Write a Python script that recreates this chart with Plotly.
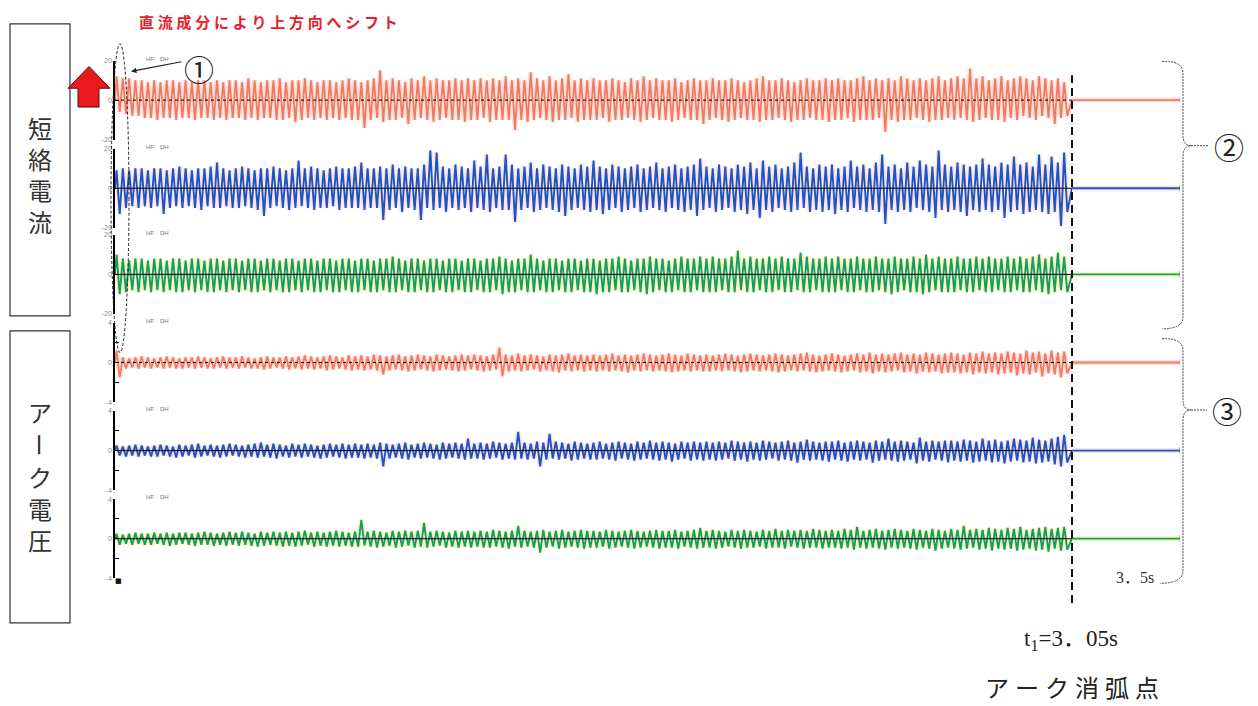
import plotly.graph_objects as go

W, H = 1258, 706
OX, OY = 8, 8      # page body margin around the plot div

F_HZ = 50          # one hi/lo pair per mains cycle
T_ARC_END = 3.05   # arc extinction
T_REC_END = 3.5    # end of record

# ---- short-circuit current, peak per cycle (units of the +-20 scale) ----
cur_red_hi = [12, 11, 11, 10, 10, 9, 10, 9, 10, 10, 9, 10, 9, 10, 10, 9, 10, 9, 10,
              10, 9, 11, 10, 9, 10, 10, 11, 9, 10, 10, 11, 10, 9, 10, 10, 9, 10, 11,
              10, 9, 10, 11, 15, 10, 11, 10, 9, 11, 10, 12, 10, 11, 10, 10, 11, 10, 11,
              10, 11, 10, 11, 10, 12, 10, 11, 10, 14, 11, 10, 12, 10, 11, 13, 10, 11, 10,
              11, 10, 10, 11, 10, 9, 11, 10, 12, 10, 11, 10, 10, 11, 9, 10, 11, 10, 10,
              11, 10, 10, 11, 10, 9, 10, 11, 12, 10, 10, 11, 10, 9, 10, 11, 10, 10, 11,
              10, 11, 10, 10, 11, 12, 10, 11, 10, 11, 10, 12, 11, 10, 11, 10, 11, 12, 10,
              11, 12, 11, 16, 11, 12, 10, 11, 12, 10, 11, 12, 11, 10, 12, 11, 10, 11, 9]
cur_red_lo = [-6, -7, -8, -8, -9, -9, -10, -9, -9, -10, -9, -9, -10, -9, -9, -10, -9, -10, -9,
              -9, -10, -9, -10, -9, -9, -10, -10, -9, -11, -10, -9, -10, -9, -10, -9, -10, -9, -10,
              -10, -14, -10, -9, -11, -10, -10, -9, -12, -10, -9, -10, -11, -10, -9, -10, -10, -11, -10,
              -10, -9, -11, -10, -10, -10, -15, -10, -11, -10, -9, -10, -11, -10, -10, -9, -11, -10, -10,
              -10, -9, -11, -10, -10, -9, -10, -11, -10, -9, -10, -10, -11, -10, -9, -10, -10, -12, -10,
              -9, -10, -11, -10, -9, -10, -10, -11, -10, -10, -9, -10, -11, -10, -10, -9, -10, -10, -11,
              -10, -10, -9, -11, -10, -10, -10, -9, -16, -10, -11, -10, -10, -9, -10, -11, -10, -10, -9,
              -10, -9, -10, -11, -10, -9, -10, -10, -11, -9, -10, -8, -9, -10, -8, -9, -12, -9, -8]

cur_blue_hi = [9, 10, 9, 10, 10, 9, 10, 10, 9, 10, 11, 10, 9, 10, 10, 11, 13, 10, 9,
               10, 11, 10, 9, 10, 10, 11, 10, 9, 10, 14, 10, 11, 10, 9, 10, 11, 10, 10,
               11, 13, 10, 10, 11, 10, 12, 10, 11, 10, 10, 12, 19, 18, 11, 10, 12, 11, 10,
               14, 11, 17, 10, 11, 17, 12, 10, 11, 13, 10, 12, 11, 10, 12, 11, 10, 12, 11,
               14, 11, 10, 12, 11, 10, 11, 12, 10, 11, 13, 10, 11, 12, 10, 11, 12, 15, 11,
               10, 12, 11, 10, 12, 11, 13, 10, 14, 11, 12, 10, 11, 13, 18, 11, 10, 12, 11,
               12, 10, 11, 14, 11, 12, 10, 13, 17, 11, 12, 10, 13, 11, 14, 12, 11, 19, 12,
               11, 13, 12, 11, 12, 15, 12, 11, 13, 12, 16, 12, 13, 11, 17, 12, 16, 13, 18]
cur_blue_lo = [-13, -10, -9, -10, -9, -10, -9, -13, -10, -9, -10, -9, -10, -11, -9, -10, -10, -9, -10,
               -10, -9, -10, -11, -14, -10, -9, -10, -11, -10, -9, -10, -11, -10, -10, -9, -11, -10, -10,
               -10, -11, -10, -10, -16, -11, -10, -12, -10, -11, -16, -10, -11, -10, -12, -10, -11, -10, -12,
               -10, -11, -12, -10, -11, -11, -17, -11, -10, -12, -11, -10, -11, -12, -14, -11, -10, -11, -12,
               -11, -13, -11, -10, -12, -11, -10, -12, -11, -10, -11, -12, -10, -11, -12, -11, -14, -11, -10,
               -12, -11, -10, -12, -11, -13, -11, -15, -11, -12, -10, -11, -12, -11, -10, -12, -11, -12, -11,
               -13, -11, -12, -10, -11, -12, -11, -12, -18, -11, -12, -11, -12, -10, -11, -12, -15, -11, -12,
               -11, -12, -14, -11, -12, -11, -12, -11, -15, -12, -11, -13, -12, -11, -12, -13, -12, -19, -12]

cur_green_hi = [10, 8, 7, 8, 8, 7, 8, 8, 7, 8, 8, 7, 8, 8, 7, 8, 8, 7, 8,
                8, 7, 8, 8, 7, 8, 8, 7, 8, 8, 7, 8, 8, 7, 8, 8, 7, 8, 8,
                7, 8, 8, 7, 8, 8, 9, 8, 7, 8, 8, 7, 8, 8, 7, 8, 8, 7, 8,
                8, 7, 8, 8, 9, 8, 7, 8, 8, 10, 8, 7, 8, 8, 7, 8, 8, 7, 8,
                8, 7, 8, 8, 9, 8, 7, 8, 8, 9, 8, 8, 7, 8, 9, 8, 8, 9, 8,
                9, 8, 8, 9, 12, 8, 9, 8, 8, 9, 8, 9, 8, 8, 11, 9, 8, 8, 9,
                8, 9, 8, 8, 9, 8, 8, 9, 8, 8, 9, 8, 8, 9, 8, 10, 8, 9, 8,
                8, 9, 8, 8, 9, 8, 9, 8, 8, 9, 8, 9, 8, 9, 10, 8, 9, 11, 9]
cur_green_lo = [-10, -9, -8, -9, -8, -9, -8, -9, -8, -9, -9, -8, -9, -8, -9, -9, -8, -9, -8,
                -9, -8, -9, -9, -8, -9, -8, -9, -9, -8, -9, -8, -9, -9, -8, -9, -9, -8, -9,
                -9, -8, -9, -9, -8, -9, -9, -8, -9, -9, -8, -9, -9, -8, -9, -9, -8, -9, -9,
                -8, -9, -9, -8, -10, -9, -9, -8, -9, -9, -8, -9, -9, -8, -9, -9, -8, -9, -9,
                -10, -9, -9, -8, -9, -9, -8, -9, -10, -9, -8, -9, -9, -8, -9, -9, -8, -9, -9,
                -9, -8, -9, -9, -8, -9, -9, -8, -9, -9, -8, -9, -9, -8, -9, -9, -8, -9, -9,
                -9, -8, -9, -9, -8, -9, -9, -8, -9, -10, -9, -8, -9, -9, -10, -9, -8, -9, -9,
                -9, -8, -9, -9, -8, -9, -9, -8, -9, -9, -8, -9, -9, -8, -9, -10, -9, -8, -9]

# ---- arc voltage, peak per cycle in tenths of the +-4 scale ----
volt_red_hi = [12, 5, 4, 5, 6, 5, 4, 5, 6, 5, 4, 5, 5, 6, 5, 4, 5, 6, 5,
               5, 6, 5, 4, 5, 6, 5, 5, 6, 5, 6, 7, 6, 5, 6, 7, 6, 5, 7,
               6, 7, 6, 8, 7, 6, 7, 8, 6, 7, 8, 7, 6, 8, 7, 6, 7, 8, 7,
               8, 7, 6, 8, 15, 8, 7, 9, 7, 8, 7, 6, 8, 7, 8, 9, 7, 8, 7,
               8, 7, 8, 9, 7, 8, 7, 8, 9, 8, 7, 8, 9, 8, 7, 9, 8, 7, 8,
               7, 8, 9, 8, 7, 8, 9, 8, 7, 8, 9, 8, 7, 8, 9, 10, 8, 7, 8,
               9, 8, 7, 8, 9, 8, 10, 8, 9, 8, 9, 10, 8, 9, 8, 10, 9, 8, 9,
               10, 9, 8, 10, 9, 11, 9, 10, 9, 11, 10, 9, 12, 10, 11, 9, 12, 10, 11]
volt_red_lo = [-15, -6, -5, -6, -5, -6, -5, -6, -5, -6, -6, -5, -6, -5, -6, -6, -5, -6, -5,
               -6, -5, -6, -6, -7, -6, -5, -6, -7, -6, -7, -6, -7, -6, -8, -7, -6, -7, -8,
               -7, -8, -7, -8, -12, -8, -7, -8, -9, -8, -7, -8, -9, -8, -7, -8, -9, -8, -7,
               -8, -9, -8, -7, -14, -9, -8, -9, -8, -7, -9, -8, -9, -10, -8, -9, -8, -9, -8,
               -9, -8, -9, -8, -9, -10, -8, -9, -8, -9, -8, -9, -10, -9, -8, -9, -8, -9, -9,
               -8, -9, -8, -9, -10, -9, -8, -9, -8, -9, -10, -9, -8, -9, -8, -9, -10, -9, -8,
               -9, -10, -9, -8, -10, -9, -11, -9, -10, -9, -8, -10, -9, -11, -9, -10, -9, -11, -10,
               -10, -11, -10, -12, -10, -11, -10, -12, -11, -10, -13, -11, -12, -10, -14, -11, -12, -15, -11]

volt_blue_hi = [5, 4, 5, 6, 5, 4, 5, 6, 5, 4, 6, 5, 6, 7, 5, 6, 5, 6, 7,
                6, 5, 6, 7, 8, 6, 7, 6, 5, 7, 6, 7, 6, 5, 6, 7, 6, 7, 6,
                7, 6, 7, 6, 8, 7, 6, 7, 8, 6, 7, 8, 7, 6, 8, 7, 8, 7, 12,
                7, 8, 7, 9, 8, 7, 8, 19, 8, 7, 9, 8, 17, 9, 8, 7, 9, 8, 7,
                8, 9, 7, 8, 9, 8, 7, 9, 8, 10, 8, 9, 8, 7, 9, 8, 9, 8, 9,
                8, 9, 8, 10, 9, 8, 9, 8, 10, 9, 8, 9, 10, 8, 9, 11, 9, 8, 9,
                9, 10, 8, 9, 10, 9, 8, 10, 9, 12, 9, 10, 9, 8, 13, 9, 10, 9, 10,
                10, 9, 11, 10, 9, 12, 10, 11, 9, 10, 12, 11, 10, 13, 11, 10, 12, 14, 16]
volt_blue_lo = [-5, -6, -5, -6, -5, -6, -6, -5, -6, -7, -6, -5, -7, -6, -5, -6, -7, -6, -5,
                -6, -7, -6, -7, -6, -7, -8, -6, -7, -6, -7, -6, -7, -8, -7, -6, -7, -8, -7,
                -7, -8, -7, -8, -16, -8, -7, -8, -9, -7, -8, -7, -8, -9, -8, -7, -8, -9, -8,
                -8, -9, -8, -7, -9, -8, -9, -8, -9, -8, -16, -9, -8, -9, -8, -10, -9, -8, -9,
                -9, -8, -9, -10, -8, -9, -10, -9, -8, -9, -10, -9, -11, -9, -8, -10, -9, -10, -9,
                -10, -9, -8, -10, -9, -11, -9, -10, -9, -8, -10, -9, -10, -12, -9, -10, -9, -10, -11,
                -9, -10, -11, -9, -10, -9, -12, -10, -9, -10, -11, -10, -9, -13, -10, -11, -9, -10, -12,
                -10, -11, -10, -12, -11, -10, -12, -11, -13, -11, -10, -12, -11, -13, -12, -11, -14, -16, -12]

volt_green_hi = [5, 4, 5, 6, 5, 5, 6, 5, 6, 5, 6, 6, 5, 6, 7, 6, 5, 6, 7,
                 6, 7, 6, 5, 7, 6, 7, 6, 7, 6, 7, 8, 6, 7, 6, 7, 8, 7, 6,
                 7, 19, 7, 8, 7, 6, 8, 7, 8, 7, 8, 16, 7, 8, 7, 6, 8, 7, 8,
                 7, 8, 7, 9, 8, 7, 8, 13, 8, 7, 8, 9, 7, 8, 9, 7, 8, 9, 8,
                 8, 7, 9, 8, 7, 8, 9, 8, 7, 8, 9, 8, 8, 9, 7, 8, 9, 11, 8,
                 9, 8, 7, 9, 8, 9, 8, 7, 9, 8, 10, 8, 9, 8, 9, 8, 10, 9, 8,
                 9, 8, 10, 9, 12, 8, 9, 10, 8, 9, 10, 9, 8, 10, 9, 8, 10, 9, 8,
                 10, 9, 13, 9, 10, 9, 11, 10, 9, 11, 10, 12, 9, 10, 11, 12, 10, 11, 12]
volt_green_lo = [-6, -5, -6, -5, -6, -6, -5, -6, -7, -6, -5, -6, -7, -6, -6, -7, -6, -7, -6,
                 -7, -6, -7, -8, -7, -6, -7, -8, -7, -8, -7, -6, -8, -7, -8, -7, -8, -7, -8,
                 -8, -7, -8, -9, -8, -7, -9, -8, -7, -9, -8, -9, -8, -7, -9, -8, -9, -8, -9,
                 -8, -9, -9, -8, -9, -10, -8, -9, -8, -9, -14, -9, -8, -10, -9, -8, -9, -10, -9,
                 -9, -8, -10, -9, -8, -9, -10, -9, -8, -9, -10, -9, -9, -10, -8, -9, -10, -9, -9,
                 -10, -9, -8, -9, -10, -9, -9, -8, -10, -9, -9, -10, -8, -9, -10, -9, -9, -10, -9,
                 -9, -10, -9, -11, -9, -10, -9, -10, -11, -9, -10, -9, -10, -11, -9, -10, -12, -10, -9,
                 -10, -11, -10, -9, -11, -10, -12, -10, -11, -10, -12, -11, -10, -12, -11, -13, -10, -12, -11]

# after extinction every channel sits on zero until the end of the record
t_post = [T_ARC_END, T_REC_END]
level_post = [0, 0]


def px(x):
    return (x - OX) / W


def py(y):
    return 1 - (y - OY) / H


def wave(hi, lo, scale=1.0):
    t, y = [0.0], [0.0]
    for k in range(len(hi)):
        t += [(k + 0.25) / F_HZ, (k + 0.75) / F_HZ]
        y += [hi[k] * scale, lo[k] * scale]
    t.append(T_ARC_END)
    y.append(0.0)
    return t, y


RED = dict(line="rgba(236,88,58,0.75)", halo="rgba(246,150,128,0.28)", dotted=True, w=1.8)
BLUE = dict(line="#1d56bc", halo="rgba(242,165,195,0.32)", dotted=False, w=1.9)
GREEN = dict(line="#139c6c", halo="rgba(246,236,120,0.55)", dotted=False, w=1.9)

# (hi, lo, scale, colours, zero row in px, y range)
panels = [
    (cur_red_hi, cur_red_lo, 1.0, RED, 97, 20),
    (cur_blue_hi, cur_blue_lo, 1.0, BLUE, 186, 20),
    (cur_green_hi, cur_green_lo, 1.0, GREEN, 273, 20),
    (volt_red_hi, volt_red_lo, 0.1, RED, 362, 4),
    (volt_blue_hi, volt_blue_lo, 0.1, BLUE, 451, 4),
    (volt_green_hi, volt_green_lo, 0.1, GREEN, 540, 4),
]

fig = go.Figure()
layout = dict(
    width=W, height=H, margin=dict(l=0, r=0, t=0, b=0),
    paper_bgcolor="white", plot_bgcolor="rgba(0,0,0,0)", showlegend=False,
    xaxis=dict(domain=[px(115), px(1072)], range=[0, T_ARC_END], visible=False),
    xaxis2=dict(domain=[px(1072), px(1180)], range=[T_ARC_END, T_REC_END], visible=False),
)
shapes = []
annotations = []

for i, (hi, lo, scale, col, zero_px, span) in enumerate(panels):
    yname = "y" if i == 0 else f"y{i + 1}"
    key = "yaxis" if i == 0 else f"yaxis{i + 1}"
    if span == 20:
        tv, tt = [-20, 0, 20], ["-20", "0", "20"]
    else:
        tv, tt = [-4, -2, 0, 2, 4], ["-4", "", "0", "", "4"]
    layout[key] = dict(
        domain=[py(zero_px + 40), py(zero_px - 40)], range=[-span, span], anchor="x",
        showline=True, linecolor="black", linewidth=1.5, ticks="inside", ticklen=4,
        tickcolor="black", tickvals=tv, ticktext=tt,
        tickfont=dict(size=7, color="#8a8a8a", family="Arial"),
        showgrid=False, zeroline=False,
    )
    t, y = wave(hi, lo, scale)
    # soft halo like the scanned recorder trace, then the trace itself
    fig.add_trace(go.Scatter(x=t, y=y, xaxis="x", yaxis=yname, mode="lines",
                             line=dict(color=col["halo"], width=5), hoverinfo="skip"))
    fig.add_trace(go.Scatter(x=t, y=y, xaxis="x", yaxis=yname, mode="lines",
                             line=dict(color=col["line"], width=col["w"])))
    fig.add_trace(go.Scatter(x=t_post, y=level_post, xaxis="x2", yaxis=yname, mode="lines",
                             line=dict(color=col["halo"], width=5), hoverinfo="skip"))
    fig.add_trace(go.Scatter(x=t_post, y=level_post, xaxis="x2", yaxis=yname,
                             mode="lines+markers", line=dict(color=col["line"], width=1.8),
                             marker=dict(symbol="line-ns-open", size=[0, 5],
                                         line=dict(color="#444", width=1))))
    shapes.append(dict(type="line", xref="x domain", x0=0, x1=1, yref=yname, y0=0, y1=0,
                       line=dict(color="black", width=1, dash="dot" if col["dotted"] else "solid")))
    annotations.append(dict(x=px(157), y=py(zero_px - 42), text="HF\u2003DH",
                            font=dict(size=6, color="#777", family="Arial")))

fig.update_layout(**layout)


def to_paper_path(spec):
    out = []
    for tok in spec.split():
        if "," in tok:
            a, b = tok.split(",")
            out.append(f"{px(float(a)):.5f},{py(float(b)):.5f}")
        else:
            out.append(tok)
    return " ".join(out)


JP = "Noto Sans CJK JP"
SERIF = "Liberation Serif, Noto Sans CJK JP"

# label boxes
for y0, y1 in [(20, 315), (330, 625)]:
    shapes.append(dict(type="rect", xref="paper", yref="paper", x0=px(10), x1=px(70),
                       y0=py(y1), y1=py(y0), line=dict(color="#333", width=1.2)))
annotations.append(dict(x=px(40), y=py(172), text="<br>".join("短絡電流"),
                        font=dict(size=24, color="#333", family=JP)))
for ch, yy in zip("アーク電圧", [412, 445, 477, 509, 541]):
    annotations.append(dict(x=px(40), y=py(yy), text=ch, textangle=90 if ch == "ー" else 0,
                            font=dict(size=24, color="#333", family=JP)))

# red block arrow (DC shift)
shapes.append(dict(type="path", xref="paper", yref="paper",
                   path=to_paper_path("M 68,85 L 89,63 L 110,85 L 99,85 L 99,104 L 78,104 L 78,85 Z"),
                   fillcolor="#e8191f", line=dict(color="#5a1010", width=1)))

# dashed ellipse around the first cycles
shapes.append(dict(type="circle", xref="paper", yref="paper", x0=px(111), x1=px(129),
                   y0=py(352), y1=py(40), line=dict(color="#222", width=1, dash="3px,2px")))

# arc extinction line
shapes.append(dict(type="line", xref="paper", yref="paper", x0=px(1072), x1=px(1072),
                   y0=py(605), y1=py(72), line=dict(color="#111", width=2, dash="8px,5px")))

# braces
brace_line = dict(color="#444", width=1, dash="2px,1px")
shapes.append(dict(type="path", xref="paper", yref="paper", line=brace_line,
                   path=to_paper_path("M 1162,58 Q 1183,57 1183,70 L 1183,132 Q 1183,143 1191,143 "
                                      "Q 1183,143 1183,154 L 1183,316 Q 1183,328 1162,328")))
shapes.append(dict(type="path", xref="paper", yref="paper", line=brace_line,
                   path=to_paper_path("M 1191,143 L 1208,143")))
shapes.append(dict(type="path", xref="paper", yref="paper", line=brace_line,
                   path=to_paper_path("M 1162,338 Q 1183,337 1183,350 L 1183,400 Q 1183,410 1191,410 "
                                      "Q 1183,410 1183,420 L 1183,572 Q 1183,585 1160,585")))
shapes.append(dict(type="path", xref="paper", yref="paper", line=brace_line,
                   path=to_paper_path("M 1191,410 L 1207,410")))

sp = "\u2005"
annotations += [
    dict(x=px(268), y=py(18), text="<b>" + sp.join("直流成分により上方向へシフト") + "</b>",
         font=dict(size=15, color="#e8202a", family=JP)),
    dict(x=px(199), y=py(65), text="①", font=dict(size=30, color="#222", family=JP)),
    dict(x=px(1229), y=py(143), text="②", font=dict(size=30, color="#222", family=JP)),
    dict(x=px(1227), y=py(410), text="③", font=dict(size=30, color="#222", family=JP)),
    dict(x=px(1135), y=py(579), text="3．5s", font=dict(size=16, color="#333", family=SERIF)),
    dict(x=px(1071), y=py(642), text="t<sub>1</sub>=3．05s", font=dict(size=23, color="#222", family=SERIF)),
    dict(x=px(1072), y=py(689), text=sp.join("アーク消弧点"), font=dict(size=24, color="#222", family=JP)),
    dict(x=px(118), y=py(583), text="■", font=dict(size=7, color="#111", family="DejaVu Sans")),
]
for a in annotations:
    a.update(xref="paper", yref="paper", showarrow=False, xanchor="center", yanchor="middle")

# pointer from ① to the ellipse
annotations.append(dict(x=px(131), y=py(68), xref="paper", yref="paper", text="",
                        showarrow=True, ax=52, ay=-10, arrowhead=2, arrowsize=1,
                        arrowwidth=1.1, arrowcolor="#222"))

fig.update_layout(shapes=shapes, annotations=annotations)
fig.write_html("out.html")
